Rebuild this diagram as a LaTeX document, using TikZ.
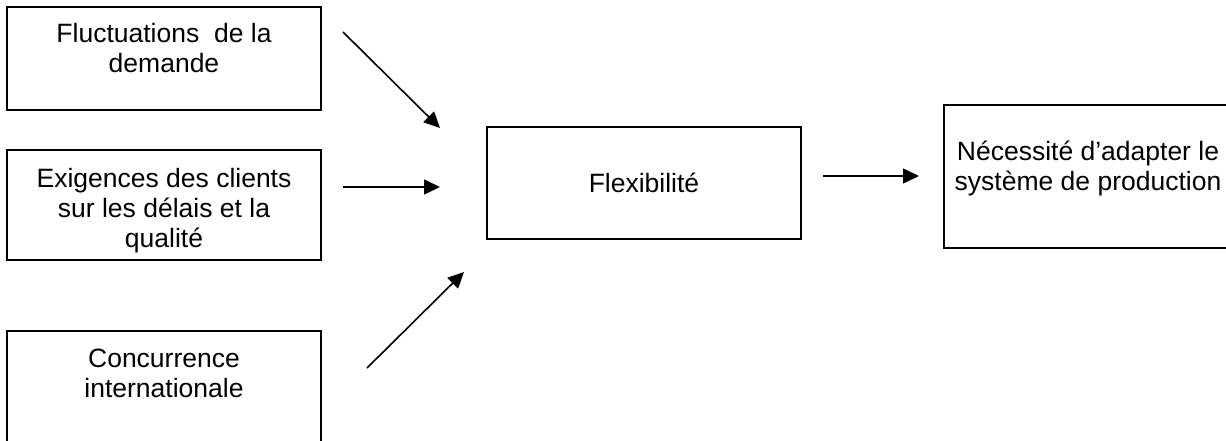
\documentclass[tikz,border=0pt]{standalone}
\usepackage{fontspec}
\setmainfont{Liberation Sans}
\usetikzlibrary{arrows.meta}
\tikzset{
  x=1pt, y=-1pt,
  frame/.style={draw=black, line width=1.6pt},
  caption/.style={font=\fontsize{26.5}{30}\selectfont, align=center, inner sep=0pt, anchor=base},
  link/.style={line width=1.6pt, -{Triangle[length=16pt,width=15pt]}}
}
\begin{document}
\begin{tikzpicture}
\useasboundingbox (0,0) rectangle (1226,441);
\clip (0,0) rectangle (1226,441);
% boxes
\draw[frame] (7,7) rectangle (321,110);
\draw[frame] (7,150) rectangle (321,260);
\draw[frame] (7,331) rectangle (321,460);
\draw[frame] (487,127) rectangle (801,239);
\draw[frame] (944,105) rectangle (1240,248);
% texts (anchored at the baseline of their last line)
\node[caption] (t1) at (164,73) {Fluctuations\ \ de la\\demande};
\node[caption] (t2) at (164,247) {Exigences des clients\\sur les délais et la\\qualité};
\node[caption] (t3) at (164,397) {Concurrence\\internationale};
\node[caption] (t4) at (644,192) {Flexibilité};
\node[caption] (t5) at (1088,190) {Nécessité d’adapter le\\système de production};
% arrows
\coordinate (a1s) at (343,32);  \coordinate (a1e) at (440,128);
\coordinate (a2s) at (343,187); \coordinate (a2e) at (440,187);
\coordinate (a3s) at (367,368); \coordinate (a3e) at (464,272);
\coordinate (a4s) at (823,176); \coordinate (a4e) at (919,176);
\draw[link] (a1s) -- (a1e);
\draw[link] (a2s) -- (a2e);
\draw[link] (a3s) -- (a3e);
\draw[link] (a4s) -- (a4e);
\end{tikzpicture}
\end{document}
